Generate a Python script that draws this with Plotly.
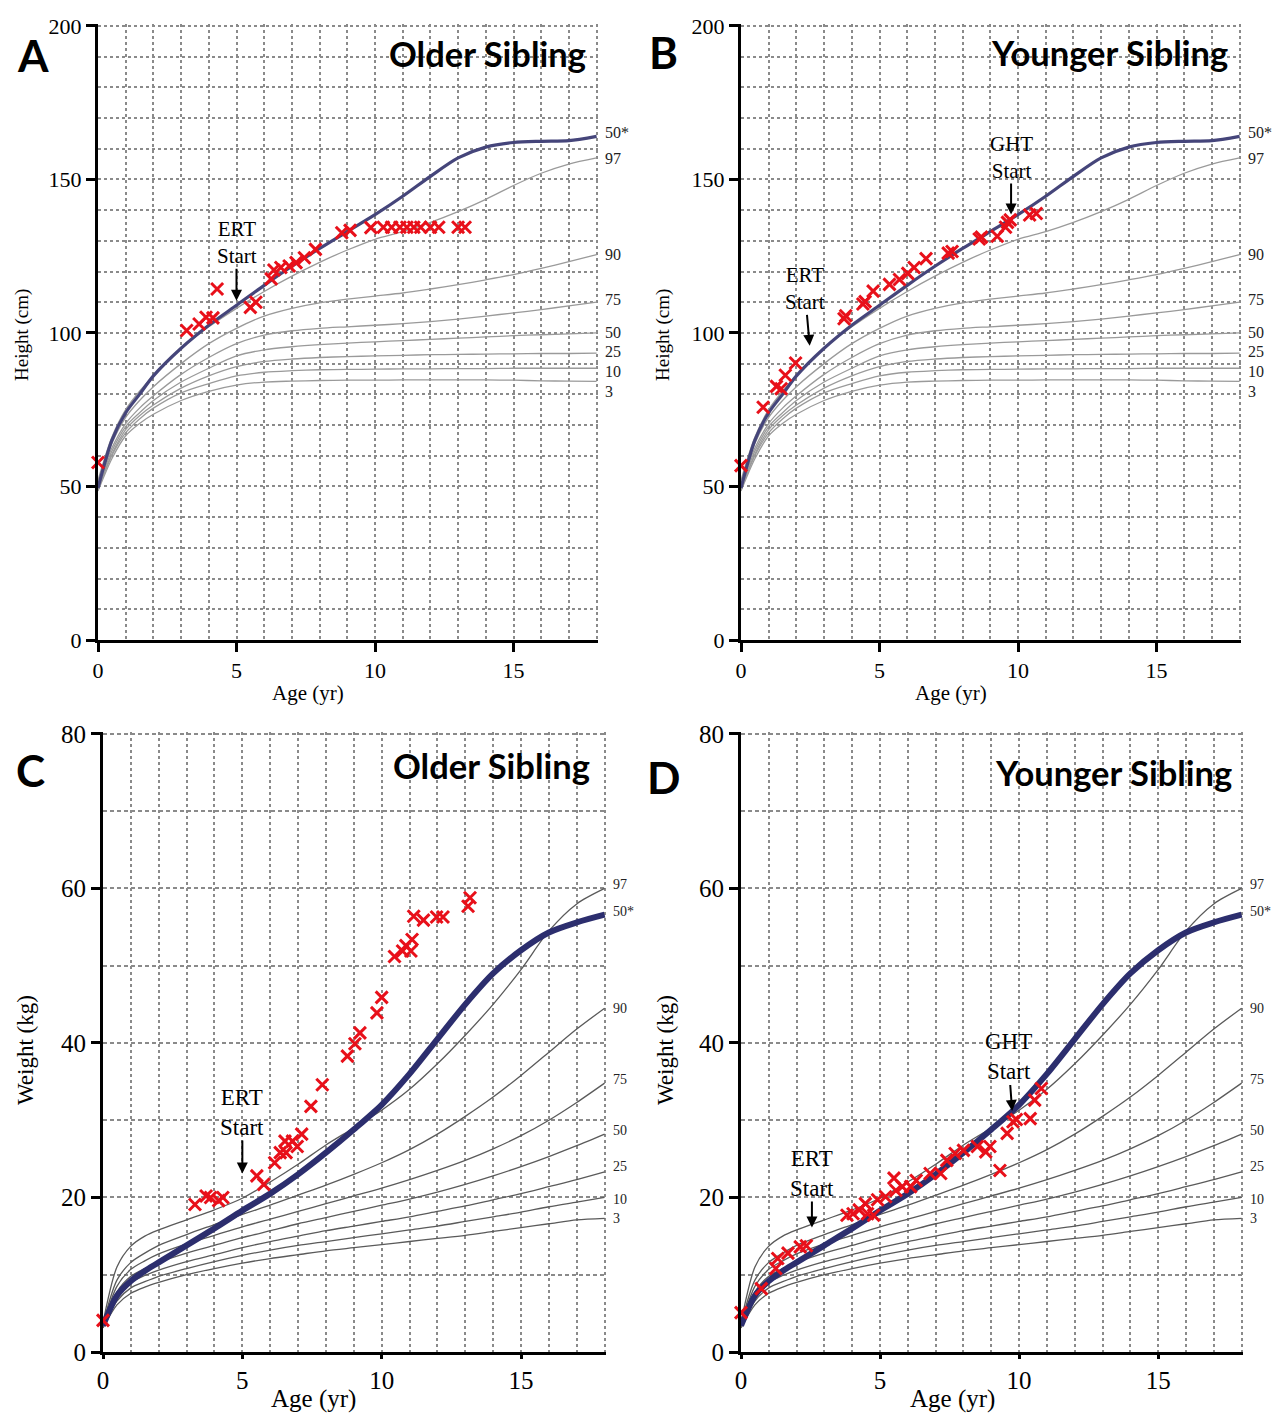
import plotly.graph_objects as go

# ---------------- data ----------------
AGES = [0, 0.5, 1, 1.5, 2, 3, 4, 5, 6, 7, 8, 9, 10, 11, 12, 13, 14, 15, 16, 17, 18]
PCT_LABELS = ["97", "90", "75", "50", "25", "10", "3"]
REF_LABEL = "50*"

# Height reference curves (cm)
HT_REF50 = [49.5, 65, 74, 80, 86, 95, 102.5, 109, 115.5, 121.7, 127.5, 133, 138.5, 144.5, 151, 157, 160.5, 162, 162.4, 162.6, 164]
HT_P97 = [52, 66, 75, 81, 86, 95, 102, 108, 113.5, 118.5, 123, 127, 130.5, 133, 136, 139.5, 143.5, 148, 152, 155, 157]
HT_P90 = [51, 64, 72.5, 78, 82.5, 90, 96.5, 101.5, 105.5, 108, 109.8, 111, 112, 113, 114.3, 115.7, 117.3, 119, 121, 123.2, 125.5]
HT_P75 = [50.5, 62.5, 70.5, 75.5, 79.5, 86.5, 92, 96.5, 99.3, 100.7, 101.5, 102, 102.5, 103, 103.7, 104.5, 105.5, 106.5, 107.6, 108.8, 110]
HT_P50 = [50, 61.5, 69.5, 74, 78, 84, 88.5, 92.5, 94.5, 95.5, 96.2, 96.7, 97.1, 97.5, 97.9, 98.3, 98.7, 99.1, 99.4, 99.7, 100]
HT_P25 = [49.5, 60.5, 68.5, 73, 76.5, 82, 86, 89, 90.7, 91.5, 92, 92.3, 92.5, 92.7, 92.9, 93, 93.1, 93.2, 93.3, 93.3, 93.4]
HT_P10 = [49, 60, 67.5, 72, 75.5, 80.5, 83.5, 86, 87.2, 87.7, 88, 88.1, 88.2, 88.3, 88.3, 88.4, 88.4, 88.5, 88.5, 88.5, 88.5]
HT_P3 = [48.5, 59, 66.5, 70.5, 73.5, 78, 81, 83, 84, 84.3, 84.5, 84.6, 84.6, 84.7, 84.7, 84.7, 84.7, 84.6, 84.4, 84.3, 84.2]
HT_PCTS = [HT_P97, HT_P90, HT_P75, HT_P50, HT_P25, HT_P10, HT_P3]

# Weight reference curves (kg)
WT_REF50 = [3.4, 7.3, 9.2, 10.5, 11.6, 13.8, 16, 18.3, 20.5, 23, 25.8, 28.8, 32, 36, 40.5, 45, 49, 52, 54.3, 55.6, 56.6]
WT_P97 = [3.8, 11, 13.7, 15, 15.8, 17.1, 18.4, 19.9, 22, 24.3, 26.8, 29, 31.3, 34, 37.3, 41, 45, 49.5, 54.5, 58, 60]
WT_P90 = [3.6, 9.3, 11.6, 12.8, 13.8, 15.2, 16.5, 17.8, 19, 20.3, 21.6, 23, 24.5, 26.2, 28.2, 30.5, 33, 35.8, 38.8, 41.8, 44.5]
WT_P75 = [3.5, 8.5, 10.7, 11.8, 12.7, 14, 15.1, 16.2, 17.2, 18.2, 19.2, 20.2, 21.2, 22.3, 23.5, 24.8, 26.3, 28, 30, 32.3, 34.8]
WT_P50 = [3.4, 7.8, 9.8, 10.8, 11.6, 12.8, 13.8, 14.8, 15.7, 16.6, 17.4, 18.2, 19, 19.8, 20.7, 21.7, 22.8, 24, 25.3, 26.7, 28.2]
WT_P25 = [3.3, 7.2, 9, 9.9, 10.6, 11.7, 12.6, 13.5, 14.3, 15, 15.7, 16.3, 16.9, 17.5, 18.2, 18.9, 19.7, 20.5, 21.4, 22.3, 23.3]
WT_P10 = [3.2, 6.6, 8.3, 9.1, 9.8, 10.8, 11.7, 12.5, 13.2, 13.8, 14.3, 14.8, 15.3, 15.8, 16.3, 16.9, 17.5, 18.1, 18.8, 19.4, 20]
WT_P3 = [3.1, 6.1, 7.6, 8.4, 9, 10, 10.8, 11.5, 12.1, 12.6, 13.1, 13.5, 13.9, 14.3, 14.7, 15.1, 15.6, 16.1, 16.6, 17.1, 17.3]
WT_PCTS = [WT_P97, WT_P90, WT_P75, WT_P50, WT_P25, WT_P10, WT_P3]

# Patient measurements
A_AGE = [0, 3.2, 3.65, 3.9, 4.15, 4.3, 5.5, 5.7, 6.25, 6.35, 6.6, 6.9, 7.15, 7.45, 7.85, 8.8, 9.1,
         9.85, 10.3, 10.6, 10.9, 11.15, 11.4, 11.65, 12.0, 12.3, 13.0, 13.25]
A_HT = [57.8, 100.8, 102.9, 105.1, 104.9, 114.3, 108.3, 110.0, 117.6, 120.5, 121.3, 121.8, 122.9, 124.5, 127.2, 132.6, 133.4,
        134.3, 134.4, 134.4, 134.4, 134.4, 134.4, 134.4, 134.4, 134.4, 134.4, 134.4]

B_AGE = [0, 0.8, 1.28, 1.45, 1.6, 1.97, 3.72, 3.78, 4.4, 4.48, 4.77, 5.36, 5.72, 6.02, 6.25, 6.68, 7.48, 7.62,
         8.6, 8.68, 9.25, 9.55, 9.62, 9.72, 10.42, 10.66]
B_HT = [56.8, 75.8, 82.6, 81.8, 86.2, 90.2, 104.6, 105.6, 109.4, 110.2, 113.6, 115.8, 117.4, 119.4, 121.3, 124.2, 126, 126.5,
        130.6, 131.2, 131.5, 134.4, 136, 136.8, 138.4, 138.9]

C_AGE = [0, 3.3, 3.7, 3.86, 4.15, 4.3, 5.52, 5.77, 6.16, 6.36, 6.53, 6.57, 6.8, 6.97, 7.13, 7.46, 7.87,
         8.77, 9.04, 9.22, 9.83, 10.0, 10.46, 10.75, 10.87, 11.05, 11.09, 11.15, 11.5, 11.97, 12.2, 13.1, 13.17]
C_WT = [4.1, 19.1, 20.2, 20.0, 19.6, 20.0, 22.8, 21.7, 24.5, 25.8, 27.3, 25.8, 27.3, 26.6, 28.2, 31.8, 34.6,
        38.3, 39.9, 41.3, 43.9, 45.9, 51.2, 51.9, 52.6, 51.9, 53.4, 56.4, 55.9, 56.3, 56.3, 57.7, 58.8]

D_AGE = [0, 0.73, 1.25, 1.32, 1.69, 2.13, 2.35, 3.81, 4.03, 4.25, 4.47, 4.55, 4.77, 4.91, 5.2, 5.5, 5.57, 5.8,
         6.1, 6.3, 6.8, 7.18, 7.4, 7.7, 8.0, 8.5, 8.8, 8.95, 9.31, 9.57, 9.78, 9.9, 10.4, 10.56, 10.8]
D_WT = [5.1, 8.2, 10.8, 12.1, 12.8, 13.6, 13.75, 17.7, 17.9, 18.4, 19.2, 17.9, 17.7, 19.7, 20.1, 22.5, 20.9, 21.4,
        21.4, 22.2, 23.1, 23.1, 24.8, 25.7, 26.1, 26.6, 25.9, 26.6, 23.5, 28.3, 29.8, 30.1, 30.2, 32.6, 34.1]

# ---------------- styling ----------------
PAGE_OFF = 8                      # default body margin of the html page
W, H = 1282 - PAGE_OFF, 1414 - PAGE_OFF
SERIF = "Liberation Serif, Times New Roman, serif"
SANS_B = "Lato, Open Sans, sans-serif"
RED = "#e8101a"


def px_x(p):
    return (p - PAGE_OFF) / W


def px_y(p):
    return 1 - (p - PAGE_OFF) / H


panels = [
    dict(ax="", dom_x=(98, 598), dom_y=(24, 640), kind="h", age=A_AGE, val=A_HT),
    dict(ax="2", dom_x=(741, 1241), dom_y=(24, 640), kind="h", age=B_AGE, val=B_HT),
    dict(ax="3", dom_x=(103, 606), dom_y=(732, 1352), kind="w", age=C_AGE, val=C_WT),
    dict(ax="4", dom_x=(741, 1243), dom_y=(732, 1352), kind="w", age=D_AGE, val=D_WT),
]

fig = go.Figure()
annotations = []
layout_axes = {}

for p in panels:
    xa, ya = "x" + p["ax"], "y" + p["ax"]
    if p["kind"] == "h":
        pcts, ref = HT_PCTS, HT_REF50
        pct_color, pct_w = "#9a9a9a", 1.3
        ref_color, ref_w = "#45457a", 3.2
        lab_size = 16
        shifts = {"50*": 4, "97": -1, "90": 0, "75": 3, "50": 0, "25": 2, "10": -3, "3": -10}
        xtick_len = 9
    else:
        pcts, ref = WT_PCTS, WT_REF50
        pct_color, pct_w = "#5a5a5a", 1.3
        ref_color, ref_w = "#2c2e6e", 6
        lab_size = 14
        shifts = {"50*": 3, "97": 4, "90": 0, "75": 4, "50": 4, "25": 5, "10": -2, "3": 0}
        xtick_len = 4

    for name, vals in zip(PCT_LABELS, pcts):
        fig.add_trace(go.Scatter(x=AGES, y=vals, mode="lines", xaxis=xa, yaxis=ya,
                                 line=dict(color=pct_color, width=pct_w, shape="spline", smoothing=0.8),
                                 showlegend=False, hoverinfo="skip"))
        annotations.append(dict(x=AGES[-1], y=vals[-1], xref=xa, yref=ya, text=name, showarrow=False,
                                xanchor="left", yanchor="middle", xshift=6, yshift=shifts[name],
                                font=dict(family=SERIF, size=lab_size, color="#222")))
    fig.add_trace(go.Scatter(x=AGES, y=ref, mode="lines", xaxis=xa, yaxis=ya,
                             line=dict(color=ref_color, width=ref_w, shape="spline", smoothing=0.8),
                             showlegend=False, hoverinfo="skip"))
    annotations.append(dict(x=AGES[-1], y=ref[-1], xref=xa, yref=ya, text=REF_LABEL, showarrow=False,
                            xanchor="left", yanchor="middle", xshift=6, yshift=shifts["50*"],
                            font=dict(family=SERIF, size=lab_size, color="#222")))

    fig.add_trace(go.Scatter(x=p["age"], y=p["val"], mode="markers", xaxis=xa, yaxis=ya,
                             marker=dict(symbol="x-thin", size=12, color=RED,
                                         line=dict(color=RED, width=3)),
                             cliponaxis=False, showlegend=False))

    grid = "#8a8a8a"
    tick_size = 22 if p["kind"] == "h" else 25
    ydash = "dot" if p["kind"] == "h" else "4px,3px"
    layout_axes["xaxis" + p["ax"]] = dict(
        domain=[px_x(p["dom_x"][0]), px_x(p["dom_x"][1])], range=[0, 18.05], anchor=ya,
        automargin=False,
        tickvals=[0, 5, 10, 15], ticks="outside", ticklen=xtick_len, tickwidth=3, tickcolor="black",
        showline=True, linewidth=3, linecolor="black", zeroline=False,
        showgrid=True, gridcolor=grid, griddash="dot", gridwidth=1.5,
        minor=dict(dtick=1, tick0=0, showgrid=True, gridcolor=grid, griddash="dot", gridwidth=1.5, ticks=""),
        tickfont=dict(family=SERIF, size=tick_size, color="black"))
    if p["kind"] == "h":
        yr, yt = [0, 200.6], [0, 50, 100, 150, 200]
    else:
        yr, yt = [0, 80.25], [0, 20, 40, 60, 80]
    layout_axes["yaxis" + p["ax"]] = dict(
        domain=[px_y(p["dom_y"][1]), px_y(p["dom_y"][0])], range=yr, anchor=xa,
        automargin=False,
        tickvals=yt, ticks="outside", ticklen=9, tickwidth=3, tickcolor="black",
        showline=True, linewidth=3, linecolor="black", zeroline=False,
        showgrid=True, gridcolor=grid, griddash=ydash, gridwidth=1.5,
        minor=dict(dtick=10, tick0=0, showgrid=True, gridcolor=grid, griddash=ydash, gridwidth=1.5, ticks=""),
        tickfont=dict(family=SERIF, size=tick_size, color="black"))

letters = [("A", 33, 55), ("B", 663, 52), ("C", 30, 770), ("D", 663, 777)]
for t, x, y in letters:
    annotations.append(dict(x=px_x(x), y=px_y(y), xref="paper", yref="paper", text="<b>%s</b>" % t,
                            showarrow=False, xanchor="center", yanchor="middle",
                            font=dict(family=SANS_B, size=44, color="black")))
titles = [("Older Sibling", 487, 54), ("Younger Sibling", 1109, 52),
          ("Older Sibling", 491, 765), ("Younger Sibling", 1113, 772)]
for t, x, y in titles:
    annotations.append(dict(x=px_x(x), y=px_y(y), xref="paper", yref="paper", text="<b>%s</b>" % t,
                            showarrow=False, xanchor="center", yanchor="middle",
                            font=dict(family=SANS_B, size=34.5, color="black")))

axis_titles = [
    ("Height (cm)", 22, 335, -90, 19), ("Height (cm)", 663, 335, -90, 19),
    ("Weight (kg)", 25, 1050, -90, 23), ("Weight (kg)", 665, 1050, -90, 23),
    ("Age (yr)", 308, 693, 0, 21), ("Age (yr)", 951, 693, 0, 21),
    ("Age (yr)", 313, 1399, 0, 25), ("Age (yr)", 952, 1399, 0, 25),
]
for t, x, y, ang, s in axis_titles:
    annotations.append(dict(x=px_x(x), y=px_y(y), xref="paper", yref="paper", text=t, textangle=ang,
                            showarrow=False, xanchor="center", yanchor="middle",
                            font=dict(family=SERIF, size=s, color="black")))

events = [
    ("x", "y", "ERT<br>Start", 5.0, 110.5, 0, -58, 21),
    ("x2", "y2", "ERT<br>Start", 2.48, 95.8, -5, -57, 21),
    ("x2", "y2", "GHT<br>Start", 9.75, 138.6, 0, -57, 21),
    ("x3", "y3", "ERT<br>Start", 5.0, 23.1, 0, -61, 23),
    ("x4", "y4", "ERT<br>Start", 2.55, 16.1, 0, -54, 23),
    ("x4", "y4", "GHT<br>Start", 9.75, 31.2, -4, -54, 23),
]
for xa, ya, t, x, y, ax, ay, s in events:
    annotations.append(dict(x=x, y=y, xref=xa, yref=ya, text=t, showarrow=True, ax=ax, ay=ay,
                            arrowhead=2, arrowsize=1.1, arrowwidth=2, arrowcolor="black", standoff=0,
                            borderpad=0,
                            font=dict(family=SERIF, size=s, color="black")))

fig.update_layout(width=W, height=H, margin=dict(l=0, r=0, t=0, b=0, autoexpand=False),
                  paper_bgcolor="white", plot_bgcolor="white",
                  annotations=annotations, showlegend=False, **layout_axes)

fig.write_html("out.html")
